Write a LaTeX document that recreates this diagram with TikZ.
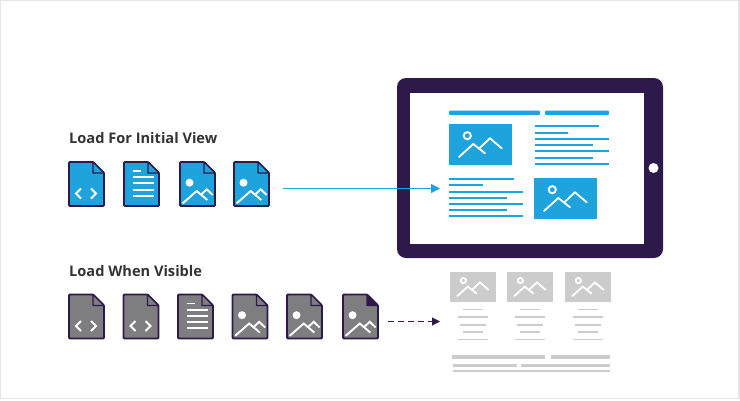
\documentclass[tikz,border=0pt]{standalone}
\usepackage{fontspec}
\setmainfont{Open Sans}
\usetikzlibrary{arrows.meta}
\definecolor{fileblue}{HTML}{1FA3DC}
\definecolor{filegrey}{HTML}{7E7E80}
\definecolor{framedark}{HTML}{2D1A4A}
\definecolor{sketchgrey}{HTML}{CCCCCC}
\tikzset{
  heading/.style={anchor=base west,inner sep=0pt,font=\fontsize{14.6}{16}\selectfont\bfseries,text=black!80},
  glyph/.style={draw=white,line width=1.9pt},
  mountain/.style={line width=1.8pt,line cap=round,line join=miter},
  pics/fileshell/.style 2 args={code={
    \draw[framedark,line width=1.9pt,fill=#1,rounded corners=1pt] (0,0) -- (24,0) -- (35,11) -- (35,44) -- (0,44) -- cycle;
    \draw[framedark,line width=1.3pt,fill=#2,line join=round] (24,0) -- (24,11) -- (35,11) -- cycle;
  }},
  pics/codeglyph/.style={code={
    \draw[glyph] (12,26.5) -- (7,31.5) -- (12,36.5);
    \draw[glyph] (22,26.5) -- (27,31.5) -- (22,36.5);
  }},
  pics/textglyph/.style={code={
    \draw[glyph] (8.5,9) -- (17,9);
    \foreach \liney in {15.3,21.4,27.6,33.8}
      \draw[glyph] (8.5,\liney) -- (29.5,\liney);
  }},
  pics/photoglyph/.style={code={
    \fill[white] (9.5,20.7) circle (4);
    \draw[glyph] (2.7,41.3) -- (16.7,29) -- (27.3,38);
    \draw[glyph] (20.7,33) -- (26.7,27.3) -- (32.7,33);
  }},
  pics/photocard/.style={code={
    \fill[#1] (0,0) rectangle (63,41);
    \draw[white,mountain] (18.3,11.7) circle (3.6);
    \draw[white,mountain] (10,33) -- (24.3,20) -- (36,29.3);
    \draw[white,mountain] (30.3,24.3) -- (41,14.3) -- (52.7,24.3);
  }}
}
\begin{document}
\begin{tikzpicture}[x=1pt,y=-1pt]
\useasboundingbox (0,0) rectangle (740,400);
% Coordinates
\coordinate (initial-start) at (283,188.5);
\coordinate (initial-end) at (440,188.5);
\coordinate (visible-start) at (388,321.5);
\coordinate (visible-end) at (440,321.5);
% Picture edge
\draw[black!10,line width=1.5pt] (0.5,0.5) rectangle (739,398.5);
% Headings
\node[heading] (initial-title) at (69,143) {Load For Initial View};
\node[heading] (visible-title) at (69,276) {Load When Visible};
% Files for initial view
\pic at (69,162) {fileshell={fileblue}{fileblue}};
\pic at (69,162) {codeglyph};
\pic at (124,162) {fileshell={fileblue}{fileblue}};
\pic at (124,162) {textglyph};
\pic at (180,162) {fileshell={fileblue}{fileblue}};
\pic at (180,162) {photoglyph};
\pic at (234,162) {fileshell={fileblue}{fileblue}};
\pic at (234,162) {photoglyph};
% Files loaded when visible
\pic at (69,294.5) {fileshell={filegrey}{filegrey}};
\pic at (69,294.5) {codeglyph};
\pic at (123.5,294.5) {fileshell={filegrey}{filegrey}};
\pic at (123.5,294.5) {codeglyph};
\pic at (178,294.5) {fileshell={filegrey}{filegrey}};
\pic at (178,294.5) {textglyph};
\pic at (232.5,294.5) {fileshell={filegrey}{filegrey}};
\pic at (232.5,294.5) {photoglyph};
\pic at (287,294.5) {fileshell={filegrey}{filegrey}};
\pic at (287,294.5) {photoglyph};
\pic at (343,294.5) {fileshell={filegrey}{framedark}};
\pic at (343,294.5) {photoglyph};
% Tablet
\fill[framedark,rounded corners=9pt] (397,78) rectangle (663,258);
\fill[white] (410,93) rectangle (643.5,243.5);
\fill[white] (653.5,168) circle (5);
% Page on the tablet
\fill[fileblue,rounded corners=1pt] (449,110.5) rectangle (540,115);
\fill[fileblue,rounded corners=1pt] (545,110.5) rectangle (609,115);
\pic at (449,124) {photocard=fileblue};
\pic at (534,178) {photocard=fileblue};
\foreach \liney/\lineend in {126/599,132.5/568,139/609,145/593,151/609,157.5/593,164/609}
  \draw[fileblue,line width=2pt] (534.5,\liney) -- (\lineend,\liney);
\foreach \liney/\lineend in {179/514,185/483,191.5/523,197.5/507,204/523,210/507,216/523}
  \draw[fileblue,line width=2pt] (449,\liney) -- (\lineend,\liney);
% Arrows
\draw[fileblue,line width=1.4pt,-{Triangle[length=9pt,width=9pt]}] (initial-start) -- (initial-end);
\draw[framedark,line width=1pt,dashed,dash pattern=on 6pt off 4pt,-{Triangle[length=8pt,width=8pt]}] (visible-start) -- (visible-end);
% Page below the fold
\foreach \cardx in {450,507,565} {
  \pic[scale=.73] at (\cardx,272) {photocard=sketchgrey};
}
\foreach \liney/\linehalf in {309.5/10,317/15,325/13,332/10,339.5/15} {
  \draw[sketchgrey,line width=1.4pt] (473-\linehalf,\liney) -- (473+\linehalf,\liney);
  \draw[sketchgrey,line width=1.4pt] (530-\linehalf,\liney) -- (530+\linehalf,\liney);
  \draw[sketchgrey,line width=1.4pt] (588-\linehalf,\liney) -- (588+\linehalf,\liney);
}
\draw[sketchgrey,line width=4.5pt] (452,357) -- (545,357);
\draw[sketchgrey,line width=4.5pt] (551,357) -- (610,357);
\draw[sketchgrey,line width=2.8pt] (453,365.5) -- (517,365.5);
\draw[sketchgrey,line width=2.8pt] (521,365.5) -- (610,365.5);
\draw[sketchgrey,line width=2.8pt] (453,371) -- (610,371);
\end{tikzpicture}
\end{document}
